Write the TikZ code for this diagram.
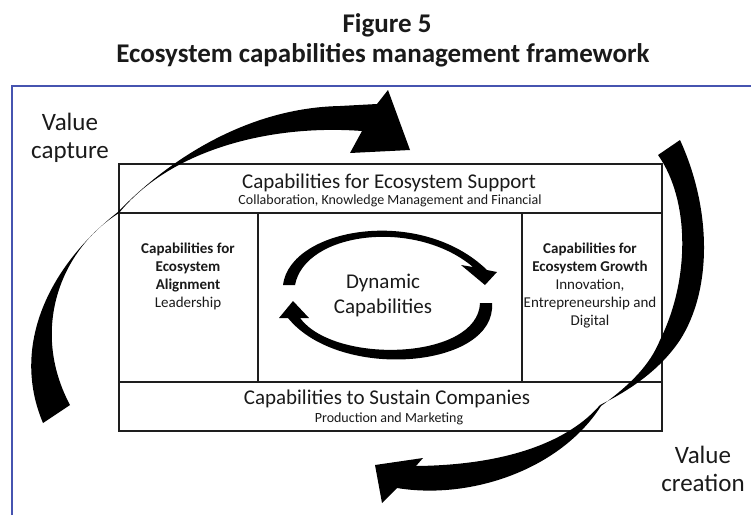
\documentclass[tikz,border=0pt]{standalone}
\usepackage{fontspec}
\setmainfont{Carlito}
\definecolor{frameblue}{HTML}{4654B0}
\definecolor{boxline}{HTML}{1E1E1E}
\definecolor{ink}{HTML}{1A1A1A}
\begin{document}
\begin{tikzpicture}[x=1pt,y=-1pt,
  panel/.style={draw=boxline, line width=1.8pt, fill=white, inner sep=0pt, anchor=north west},
  txt/.style={inner sep=0pt, align=center, text=ink},
  bigtxt/.style={txt, font=\fontsize{21}{25}\selectfont},
  subtxt/.style={txt, font=\fontsize{14}{17}\selectfont},
  coltxt/.style={txt, font=\fontsize{15}{18}\selectfont},
  valtxt/.style={txt, font=\fontsize{25}{28}\selectfont},
  flow/.style={fill=black, draw=none},
]
\useasboundingbox (0,0) rectangle (751,515);

% heading
\node[txt, font=\bfseries\fontsize{27}{31}\selectfont] (fig) at (387,25) {Figure 5};
\node[txt, font=\bfseries\fontsize{27}{31}\selectfont] (title) at (383,55) {Ecosystem capabilities management framework};

% frame
\draw[frameblue, line width=2pt] (12,515) -- (12,86) -- (751,86);

% panels
\node[panel, minimum width=543pt, minimum height=49pt] (support) at (118,163) {};
\node[panel, minimum width=139pt, minimum height=169pt] (align) at (118,212) {};
\node[panel, minimum width=264pt, minimum height=169pt] (dyn) at (257,212) {};
\node[panel, minimum width=140pt, minimum height=169pt] (growth) at (521,212) {};
\node[panel, minimum width=543pt, minimum height=49pt] (sustain) at (118,381) {};

% panel texts
\node[bigtxt] (supportT) at (389,183) {Capabilities for Ecosystem Support};
\node[subtxt] (supportS) at (390,201) {Collaboration, Knowledge Management and Financial};
\node[coltxt, anchor=north] (alignT) at (188,243) {\textbf{Capabilities for}\\\textbf{Ecosystem}\\\textbf{Alignment}\\Leadership};
\node[coltxt, anchor=north] (growthT) at (590,243) {\textbf{Capabilities for}\\\textbf{Ecosystem Growth}\\Innovation,\\Entrepreneurship and\\Digital};
\node[bigtxt] (dynT) at (383,295) {Dynamic\\Capabilities};
\node[bigtxt] (sustainT) at (387,399) {Capabilities to Sustain Companies};
\node[subtxt] (sustainS) at (389,419) {Production and Marketing};

% outer labels
\node[valtxt] (capture) at (70,138) {Value\\capture};
\node[valtxt] (creation) at (703,469) {Value\\creation};

% value capture arrow
\fill[flow] (43,423) .. controls (10,345) and (50,265) .. (118,212)
  .. controls (160,168) and (240,108) .. (340,106)
  -- (377,104) -- (388,90) -- (410,150) -- (350,153) -- (362,131)
  .. controls (270,124) and (170,150) .. (119,213)
  .. controls (60,250) and (30,330) .. (70,405) -- cycle;

% value creation arrow
\fill[flow] (680,140) .. controls (712,210) and (712,290) .. (680,340)
  .. controls (660,370) and (630,390) .. (600,405)
  .. controls (570,440) and (510,465) .. (416,466)
  -- (423,458) -- (375,465) -- (382,503) -- (397,488)
  .. controls (470,500) and (560,470) .. (601,406)
  .. controls (630,385) and (650,365) .. (660,340)
  .. controls (690,280) and (690,200) .. (658,155) -- cycle;

% dynamic cycle, upper arc
\fill[flow] (283,285) .. controls (290,228) and (420,205) .. (487,270)
  -- (497,272) -- (485,285) -- (461,265) -- (473,267)
  .. controls (415,218) and (305,232) .. (295,285) -- cycle;

% dynamic cycle, lower arc
\fill[flow] (492,303) .. controls (497,368) and (340,382) .. (288,318)
  -- (279,318) -- (293,301) -- (309,318) -- (300,318)
  .. controls (335,365) and (478,360) .. (480,303) -- cycle;
\end{tikzpicture}
\end{document}
